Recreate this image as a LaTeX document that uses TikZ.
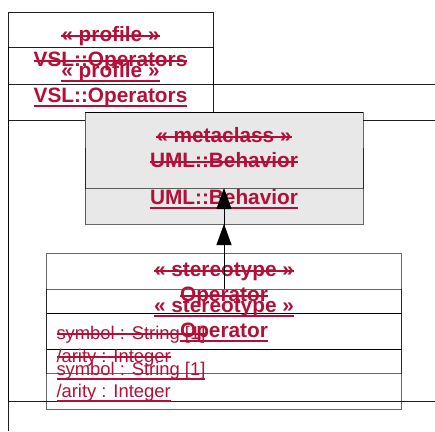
\documentclass[tikz,border=0pt]{standalone}
\usepackage{fontspec}
\setmainfont{Liberation Sans}
\usepackage{tikz}
\usetikzlibrary{arrows.meta}
\definecolor{umlred}{HTML}{B30F37}
\definecolor{metagray}{HTML}{E8E8E8}

\begin{document}
\begin{tikzpicture}[x=1pt,y=-1pt,>={Triangle[length=21pt,width=15pt]},
  every node/.style={inner sep=0pt,outer sep=0pt},
  head/.style={font=\bfseries\fontsize{20.8}{25}\selectfont,text=umlred,anchor=base},
  attr/.style={font=\fontsize{18.4}{22}\selectfont,text=umlred,anchor=base west},
  struck/.style={append after command={([yshift=5pt]\tikzlastnode.base west) edge[draw=umlred,line width=1.6pt] ([yshift=5pt]\tikzlastnode.base east)}},
  underl/.style={append after command={([yshift=-3.6pt]\tikzlastnode.base west) edge[draw=umlred,line width=1.9pt] ([yshift=-3.6pt]\tikzlastnode.base east)}},
  pkgline/.style={draw=black,draw opacity=.88,line width=1pt},
  classline/.style={draw=black,draw opacity=.6,line width=1pt},
  metabox/.style={fill=metagray,minimum width=278pt,minimum height=76pt},
  stereobox/.style={classline,minimum width=355pt,minimum height=120pt}]
  \useasboundingbox (0,0) rectangle (435,431);
  % profile package
  \draw[pkgline] (8,12) rectangle (213,84);
  \draw[pkgline] (213,84) -- (435,84);
  \draw[pkgline] (8,84) -- (8,401) -- (435,401);
  \draw[pkgline] (8,47) rectangle (213,120);
  \draw[pkgline] (213,120) -- (435,120);
  \draw[pkgline] (8,120) -- (8,431);
  \node[head,struck] (profOldSt) at (110.5,41) {« profile »};
  \node[head,struck] (profOldNm) at (110.5,66) {VSL::Operators};
  \node[head,underl] (profNewSt) at (110.5,77) {« profile »};
  \node[head,underl] (profNewNm) at (110.5,102) {VSL::Operators};
  % metaclass
  \node[metabox] (metaNew) at (224,186) {};
  \node[metabox,classline] (metaOld) at (224,150) {};
  \draw[line width=1pt] (metaOld.north west) -- (metaOld.north east);
  \draw[classline] (metaNew.north west) -- (metaNew.south west) -- (metaNew.south east) -- (metaNew.north east);
  \node[head,struck] (metaOldSt) at (224,142) {« metaclass »};
  \node[head,struck] (metaOldNm) at (224,167) {UML::Behavior};
  \node[head,underl] (metaNewNm) at (224,204) {UML::Behavior};
  % stereotype
  \node[stereobox] (stOld) at (224,313) {};
  \draw[line width=1pt] (stOld.west) -- (stOld.east);
  \node[stereobox] (stNew) at (224,349) {};
  \draw[line width=1pt] (stNew.west) -- (stNew.east);
  \node[head,struck] (stOldSt) at (224,276) {« stereotype »};
  \node[head,struck] (stOldNm) at (224,301) {Operator};
  \node[head,underl] (stNewSt) at (224,312) {« stereotype »};
  \node[head,underl] (stNewNm) at (224,337) {Operator};
  \node[attr,struck] (symOld) at (56.5,339) {symbol : String [1]};
  \node[attr,struck] (arityOld) at (56.5,362) {/arity : Integer};
  \node[attr,underl] (symNew) at (56.5,375) {symbol : String [1]};
  \node[attr,underl] (arityNew) at (56.5,397) {/arity : Integer};
  % extensions
  \draw[->,line width=1pt] (stOld.north) -- (metaOld.south);
  \draw[->,line width=1pt] (stNew.north) -- (metaNew.south);
\end{tikzpicture}
\end{document}
